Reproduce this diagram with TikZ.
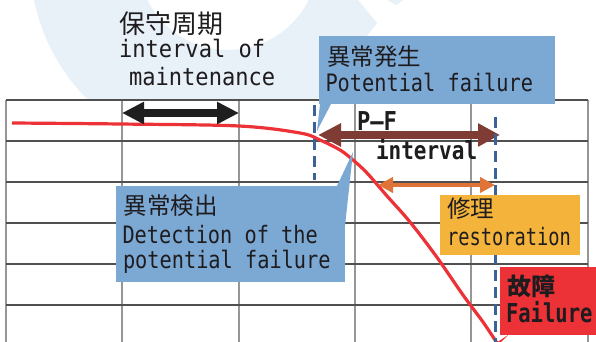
\documentclass[tikz,border=0pt]{standalone}
\usepackage{fontspec}
\setmainfont{DejaVu Sans Mono}
\newfontfamily\jp{Noto Sans CJK JP}
\usetikzlibrary{arrows.meta}
\definecolor{wm}{RGB}{232,240,248}
\definecolor{boxblue}{RGB}{124,168,212}
\definecolor{boxorange}{RGB}{244,180,60}
\definecolor{boxred}{RGB}{236,50,55}
\definecolor{curvered}{RGB}{236,50,55}
\definecolor{pfbrown}{RGB}{126,60,52}
\definecolor{arrorange}{RGB}{224,116,56}
\definecolor{dashblue}{RGB}{61,99,150}
\definecolor{ink}{RGB}{30,28,30}
\definecolor{hgrid}{RGB}{80,80,80}
\definecolor{vgrid}{RGB}{150,150,150}
\newcommand{\sqx}[2][0.845]{\scalebox{#1}[1]{#2}}
\begin{document}
\begin{tikzpicture}[x=1pt,y=-1pt,
  lbl/.style={anchor=base west, inner sep=0pt, outer sep=0pt, text=ink},
  jpl/.style={lbl, font=\jp\fontsize{23.5}{28}\selectfont},
  lat/.style={lbl, font=\fontsize{24}{28}\selectfont},
  boxnode/.style={anchor=north west, inner sep=0pt, outer sep=0pt},
  hline/.style={draw=hgrid, line width=1.8pt},
  vline/.style={draw=vgrid, line width=1.6pt},
  dashln/.style={draw=dashblue, line width=3pt, dash pattern=on 11pt off 6pt},
  bigarrow/.style={line width=8pt, {Triangle[length=22pt,width=21pt]}-{Triangle[length=22pt,width=21pt]}},
  smallarrow/.style={line width=4.5pt, {Triangle[length=15pt,width=15pt]}-{Triangle[length=15pt,width=15pt]}}
]
\useasboundingbox (0,0) rectangle (596,342);
% watermark
\begin{scope}
  \clip (0,0) -- (358,0) -- (377,23) -- (299,122) -- (0,122) -- cycle;
  \fill[wm, even odd rule] (228,-40) circle[radius=198pt] (228,-40) circle[radius=90pt];
\end{scope}
\fill[wm] (387,0) -- (403,0) -- (396,5) -- cycle;
% grid
\fill[white] (6,100) rectangle (588,342);
\foreach \x in {6,122,239,355,471,588} \draw[vline] (\x,100) -- (\x,342);
\foreach \y in {100,141,182,223,264,305} \draw[hline] (6,\y) -- (588,\y);
% curve
\draw[curvered, line width=3.2pt] plot[smooth, tension=0.55] coordinates {(12,123) (120,124) (239,126) (300,133) (320,140) (340,150) (353,160) (367,173) (387,196) (410,222) (436,256) (463,295) (483,322) (497,343)};
% arrows
\coordinate (m0) at (122,113); \coordinate (m1) at (239,113);
\draw[bigarrow, draw=black!88, fill=black!88] (m0) -- (m1);
\coordinate (pf0) at (318,135); \coordinate (pf1) at (500,135);
\draw[line width=8pt, pfbrown, {Triangle[length=23pt,width=22pt]}-{Triangle[length=22pt,width=22pt]}] (pf0) -- (pf1);
\coordinate (r0) at (378,185); \coordinate (r1) at (495,185);
\draw[smallarrow, arrorange] (r0) -- (r1);
% dashed
\coordinate (d0a) at (314,105); \coordinate (d0b) at (314,180);
\coordinate (d1a) at (495,117); \coordinate (d1b) at (495,343);
\draw[dashln] (d0a) -- (d0b);
\draw[dashln] (d1a) -- (d1b);
% maintenance label
\node[lbl, font=\jp\fontsize{26}{30}\selectfont] (mj) at (119,34) {保守周期};
\node[lat] (me1) at (119,58) {\sqx[0.92]{interval of}};
\node[lat] (me2) at (129,85) {\sqx[0.92]{maintenance}};
% potential failure box
\node[boxnode, fill=boxblue, minimum width=236pt, minimum height=68pt] (pbox) at (319,36) {};
\coordinate (ptip) at (317,131);
\fill[boxblue] ([xshift=1pt]pbox.south west) -- (ptip) -- ([xshift=12pt]pbox.south west) -- cycle;
\node[jpl] (pj) at (327,65.5) {異常発生};
\node[lat] (pe) at (325.5,92) {\sqx{Potential failure}};
% detection box
\node[boxnode, fill=boxblue, minimum width=229pt, minimum height=96pt] (dbox) at (116,186) {};
\coordinate (dtip) at (353,152);
\fill[boxblue] ([xshift=-8pt]dbox.north east) -- (dtip) -- ([yshift=-40pt]dbox.north east) -- cycle;
\node[jpl] (dj) at (123.5,214.5) {異常検出};
\node[lat] (de1) at (122.5,243) {\sqx{Detection of the}};
\node[lat] (de2) at (123,268) {\sqx{potential failure}};
% restoration box
\node[boxnode, fill=boxorange, minimum width=140pt, minimum height=60pt] (rbox) at (440,195) {};
\node[jpl] (rj) at (447,217.5) {修理};
\node[lat] (re) at (447,245) {\sqx[0.78]{restoration}};
% P-F labels
\node[lbl, font=\bfseries\fontsize{26}{30}\selectfont] (pfl) at (357,130) {\sqx[0.85]{P–F}};
\node[lbl, font=\bfseries\fontsize{25}{28}\selectfont] (pfi) at (376,159) {\sqx[0.84]{interval}};
% failure box
\node[boxnode, fill=boxred, minimum width=97pt, minimum height=68pt] (fbox) at (500,267) {};
\coordinate (ftip) at (496,343);
\fill[boxred] ([yshift=-8pt]fbox.south west) -- (ftip) -- ([xshift=8pt]fbox.south west) -- cycle;
\node[lbl, font=\jp\bfseries\fontsize{24}{28}\selectfont] (fj) at (507,295.5) {故障};
\node[lbl, font=\bfseries\fontsize{26}{30}\selectfont] (fe) at (506,322) {\sqx[0.79]{Failure}};
\end{tikzpicture}
\end{document}
